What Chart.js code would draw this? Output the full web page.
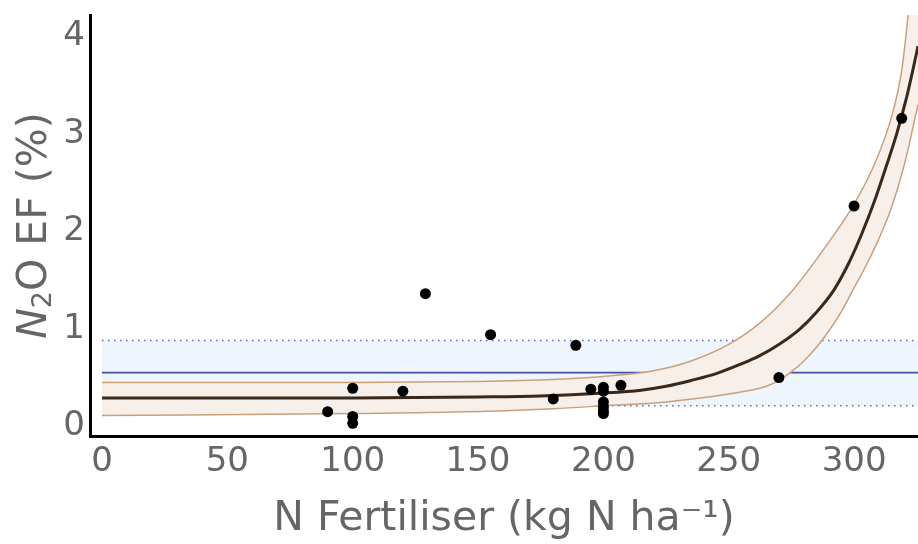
<!DOCTYPE html>
<html>
<head>
<meta charset="utf-8">
<script src="https://cdn.jsdelivr.net/npm/chart.js@4"></script>
<style>
  body { margin: 0; background: #fff; }
  canvas { display: block; }
</style>
</head>
<body>
<canvas id="efChart" width="918" height="544"></canvas>
<script>
// tick labels
const xTicks = [0, 50, 100, 150, 200, 250, 300];
const yTicks = [0, 1, 2, 3, 4];

// measured points (N rate, EF %)
const pointN  = [90, 100, 100, 100, 120, 129, 155, 180, 189, 195, 200, 200, 200, 200, 200, 200, 207, 270, 300, 319];
const pointEF = [0.15, 0.39, 0.10, 0.03, 0.36, 1.36, 0.94, 0.28, 0.83, 0.38, 0.40, 0.36, 0.25, 0.20, 0.16, 0.13, 0.42, 0.50, 2.26, 3.16];

// fitted curve
const fitN  = [0, 50, 100, 150, 175, 200, 215, 225, 235, 245, 255, 262, 270, 278, 285, 292, 298, 303, 308, 313, 317, 321, 324, 325.5];
const fitEF = [0.29, 0.29, 0.29, 0.30, 0.31, 0.34, 0.37, 0.41, 0.47, 0.54, 0.64, 0.72, 0.84, 0.99, 1.17, 1.40, 1.68, 1.97, 2.30, 2.68, 3.00, 3.38, 3.72, 3.90];

// confidence band edges
const upperN  = [0, 100, 150, 180, 200, 220, 235, 250, 262, 275, 288, 300, 308, 315, 319, 321.5, 323.5, 325.5];
const upperEF = [0.45, 0.45, 0.46, 0.48, 0.51, 0.57, 0.67, 0.84, 1.05, 1.38, 1.82, 2.28, 2.68, 3.18, 3.65, 4.2, 4.7, 5.2];
const lowerN  = [0, 100, 140, 180, 200, 225, 250, 265, 270, 275, 280, 285, 290, 295, 300, 305, 310, 315, 320, 325.5];
const lowerEF = [0.11, 0.13, 0.145, 0.18, 0.21, 0.25, 0.33, 0.41, 0.47, 0.56, 0.67, 0.81, 0.98, 1.18, 1.42, 1.66, 1.93, 2.25, 2.68, 3.30];

// default EF line and its range
const refN    = [0, 325.5];
const refEF   = [0.55, 0.55];
const refLow  = [0.21, 0.21];
const refHigh = [0.88, 0.88];

const toXY = (xs, ys) => xs.map((x, i) => ({ x: x, y: ys[i] }));

const textGrey = '#666666';

// y title drawn by hand so the N can be italic and the 2 a subscript
const yTitlePlugin = {
    id: 'yTitle',
    afterDraw(chart) {
        const c = chart.ctx;
        const area = chart.chartArea;
        const parts = [
            { t: 'N', f: 'italic 41px "DejaVu Sans"', dy: 0 },
            { t: '2', f: '27px "DejaVu Sans"', dy: 9 },
            { t: 'O EF (%)', f: '41px "DejaVu Sans"', dy: 0 }
        ];
        let total = 0;
        parts.forEach(p => { c.font = p.f; p.w = c.measureText(p.t).width; total += p.w; });
        c.save();
        c.translate(35, (area.top + area.bottom) / 2);
        c.rotate(-Math.PI / 2);
        c.fillStyle = textGrey;
        c.textAlign = 'left';
        c.textBaseline = 'middle';
        let x = -total / 2;
        parts.forEach(p => { c.font = p.f; c.fillText(p.t, x, p.dy); x += p.w; });
        c.restore();
    }
};

const ctx = document.getElementById('efChart').getContext('2d');
const efChart = new Chart(ctx, {
    type: 'line',
    data: {
        datasets: [
            {
                // lower dotted bound, fills up to the next one
                data: toXY(refN, refLow),
                borderColor: '#5a63c8',
                borderWidth: 1.5,
                borderDash: [1.5, 4.5],
                backgroundColor: '#eef5fd',
                fill: '+1',
                pointRadius: 0,
                order: 6
            },
            {
                data: toXY(refN, refHigh),
                borderColor: '#5a63c8',
                borderWidth: 1.5,
                borderDash: [1.5, 4.5],
                fill: false,
                pointRadius: 0,
                order: 5
            },
            {
                data: toXY(refN, refEF),
                borderColor: '#4651a3',
                borderWidth: 1.8,
                fill: false,
                pointRadius: 0,
                order: 4
            },
            {
                data: toXY(lowerN, lowerEF),
                borderColor: '#c9a07a',
                borderWidth: 1.5,
                backgroundColor: '#f7f0ea',
                fill: '+1',
                cubicInterpolationMode: 'monotone',
                pointRadius: 0,
                order: 3
            },
            {
                data: toXY(upperN, upperEF),
                borderColor: '#c9a07a',
                borderWidth: 1.5,
                fill: false,
                cubicInterpolationMode: 'monotone',
                pointRadius: 0,
                order: 2
            },
            {
                data: toXY(fitN, fitEF),
                borderColor: '#3a281a',
                borderWidth: 3,
                fill: false,
                cubicInterpolationMode: 'monotone',
                pointRadius: 0,
                order: 1
            },
            {
                data: toXY(pointN, pointEF),
                showLine: false,
                pointRadius: 5.5,
                pointBackgroundColor: '#000',
                pointBorderWidth: 0,
                order: 0
            }
        ]
    },
    options: {
        responsive: false,
        animation: false,
        devicePixelRatio: 1,
        layout: { autoPadding: false, padding: { top: 15, right: 0, left: 0, bottom: 0 } },
        plugins: {
            legend: { display: false },
            tooltip: { enabled: false }
        },
        scales: {
            x: {
                type: 'linear',
                min: -4.8,
                max: 325.5,
                grid: { display: false, drawTicks: false },
                border: { color: '#000', width: 3 },
                afterBuildTicks: scale => { scale.ticks = xTicks.map(v => ({ value: v })); },
                afterFit: scale => {
                    scale.height = 108;
                    scale.paddingLeft = 0;
                    scale.paddingRight = 0;
                },
                ticks: {
                    color: textGrey,
                    padding: 6,
                    maxRotation: 0,
                    font: { family: 'DejaVu Sans', size: 34 }
                },
                title: {
                    display: true,
                    text: 'N Fertiliser (kg N ha\u207B\u00B9)',
                    color: textGrey,
                    padding: { top: 0, bottom: 0 },
                    font: { family: 'DejaVu Sans', size: 41 }
                }
            },
            y: {
                type: 'linear',
                min: -0.1,
                max: 4.22,
                grid: { display: false, drawTicks: false },
                border: { color: '#000', width: 3 },
                afterBuildTicks: scale => { scale.ticks = yTicks.map(v => ({ value: v })); },
                afterFit: scale => {
                    scale.width = 90;
                    scale.paddingTop = 0;
                    scale.paddingBottom = 0;
                },
                ticks: {
                    color: textGrey,
                    padding: 5,
                    font: { family: 'DejaVu Sans', size: 34 }
                },
                title: { display: false }
            }
        }
    },
    plugins: [yTitlePlugin]
});
</script>
</body>
</html>
